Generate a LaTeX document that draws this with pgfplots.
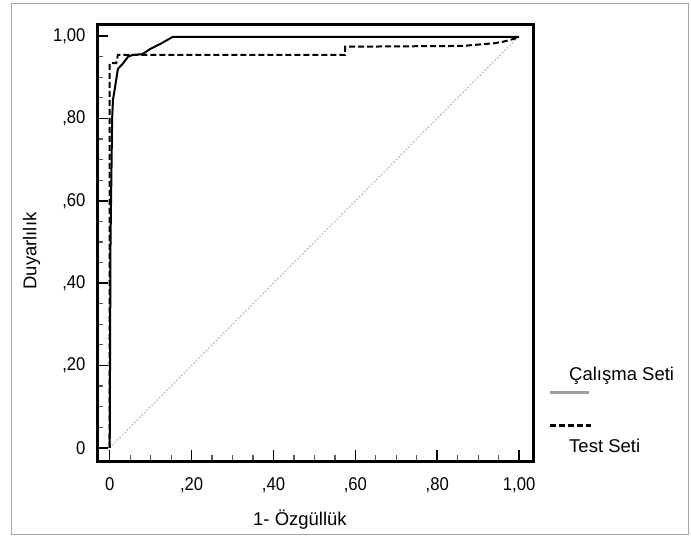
\documentclass[border=0pt]{standalone}
\usepackage{fontspec}
\setmainfont{Liberation Sans}
\newfontfamily\condfont{Liberation Sans}[FakeStretch=0.9]
\usepackage{pgfplots}
\pgfplotsset{compat=1.18}

\begin{document}
\begin{tikzpicture}
\useasboundingbox (0,0) rectangle (691pt,536pt);
\draw[gray!70, line width=0.8pt] (11pt,2pt) rectangle (688pt,533pt);
\begin{axis}[
  at={(97pt,75pt)}, anchor=south west,
  scale only axis, width=436.5pt, height=436.5pt,
  xmin=-0.031, xmax=1.035, ymin=-0.032, ymax=1.028,
  axis line style={line width=3pt},
  xtick={0,0.2,0.4,0.6,0.8,1}, ytick={0,0.2,0.4,0.6,0.8,1},
  xticklabels={0,{,20},{,40},{,60},{,80},{1,00}},
  yticklabels={0,{,20},{,40},{,60},{,80},{1,00}},
  minor tick num=3,
  xtick pos=bottom, ytick pos=left, tick align=inside,
  major tick length=11pt, minor tick length=6pt,
  every tick/.style={black, line width=1.6pt},
  every minor tick/.style={black!65, line width=1.2pt},
  tick label style={font=\condfont\fontsize{18.5}{22}\selectfont},
  xticklabel style={yshift=-13pt},
  yticklabel style={xshift=-8pt},
  xlabel={1- Özgüllük}, ylabel={Duyarlılık},
  label style={font=\fontsize{18.5}{22}\selectfont},
  xlabel style={at={(axis description cs:0.465,-0.135)}, anchor=center},
  ylabel style={at={(axis description cs:-0.150,0.481)}, anchor=center},
]
% diagonal reference
\addplot[gray!55, line width=1.3pt, dash pattern=on 1.5pt off 2pt] coordinates {(0,0)(1,1)};
% training set (solid)
\addplot[black, line width=2pt] coordinates {
(0,0)(0.002,0.50)(0.006,0.80)(0.008,0.845)(0.012,0.869)(0.020,0.920)(0.033,0.934)
(0.045,0.950)(0.056,0.954)(0.080,0.956)(0.098,0.968)(0.126,0.982)(0.154,0.998)(1,0.998)};
% test set (dashed)
\addplot[black, line width=2pt, dash pattern=on 6pt off 3pt] coordinates {
(0,0)(0,0.934)(0.016,0.934)(0.020,0.954)(0.575,0.954)(0.575,0.974)(0.863,0.976)
(0.92,0.981)(0.936,0.982)(0.96,0.986)(0.994,0.995)};
\end{axis}
% legend
\draw[gray!75, line width=3pt] (550pt,143.5pt) -- (589pt,143.5pt);
\draw[black, line width=3pt, dash pattern=on 6pt off 3pt] (550pt,111pt) -- (591pt,111pt);
\node[anchor=base west, inner sep=0pt, font=\fontsize{18.5}{22}\selectfont] at (569pt,155pt) {Çalışma Seti};
\node[anchor=base west, inner sep=0pt, font=\fontsize{18.5}{22}\selectfont] at (569pt,84pt) {Test Seti};
\end{tikzpicture}
\end{document}
